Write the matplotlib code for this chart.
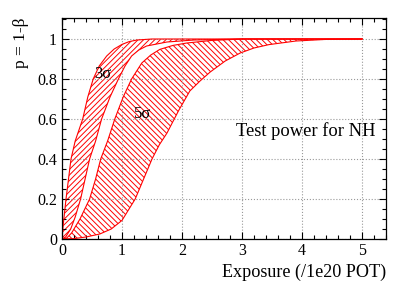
import numpy as np
import matplotlib
matplotlib.use("Agg")
import matplotlib.pyplot as plt
from matplotlib.ticker import MultipleLocator, FuncFormatter

# ---- data ----
# 3 sigma band
x3_upper = [0, 0.02, 0.067, 0.15, 0.22, 0.345, 0.43, 0.52, 0.62, 0.745, 0.87, 1.0, 1.12, 1.25, 1.5, 5.0]
p3_upper = [0, 0.07, 0.2, 0.4, 0.49, 0.6, 0.71, 0.8, 0.865, 0.915, 0.95, 0.973, 0.987, 0.995, 1.0, 1.0]
x3_lower = [0, 0.06, 0.145, 0.22, 0.31, 0.46, 0.56, 0.66, 0.8, 0.94, 1.05, 1.16, 1.28, 1.41, 1.75, 2.2, 3.0, 5.0]
p3_lower = [0, 0.01, 0.05, 0.11, 0.2, 0.4, 0.49, 0.6, 0.71, 0.8, 0.865, 0.915, 0.945, 0.965, 0.985, 0.995, 1.0, 1.0]
# 5 sigma band
x5_upper = [0, 0.08, 0.16, 0.3, 0.46, 0.56, 0.645, 0.76, 0.88, 1.02, 1.16, 1.33, 1.48, 1.63, 1.85, 2.08, 2.5, 3.0, 5.0]
p5_upper = [0, 0.005, 0.03, 0.1, 0.2, 0.3, 0.4, 0.49, 0.6, 0.71, 0.8, 0.88, 0.92, 0.948, 0.968, 0.98, 0.993, 1.0, 1.0]
x5_lower = [0, 0.2, 0.4, 0.63, 0.82, 1.0, 1.22, 1.36, 1.5, 1.62, 1.75, 1.94, 2.13, 2.3, 2.47, 2.72, 2.97, 3.2, 3.45, 3.9, 4.4, 5.0]
p5_lower = [0, 0.002, 0.01, 0.025, 0.05, 0.093, 0.2, 0.3, 0.4, 0.47, 0.53, 0.64, 0.74, 0.79, 0.835, 0.89, 0.93, 0.955, 0.972, 0.99, 0.998, 1.0]

x_ticks = [0, 1, 2, 3, 4, 5]
y_ticks = [0, 0.2, 0.4, 0.6, 0.8, 1.0]

band_labels = ["3\u03c3", "5\u03c3"]

plt.rcParams['font.family'] = ['Liberation Serif', 'DejaVu Serif']
plt.rcParams['hatch.linewidth'] = 0.7
plt.rcParams['hatch.color'] = '#ff2020'

fig = plt.figure(figsize=(4.15, 2.81), dpi=100)
ax = fig.add_axes([62/415, 1-239/281, (386-62)/415, (239-18)/281])

red = '#ff0000'
for xu, pu, xl, pl, h in [(x3_upper, p3_upper, x3_lower, p3_lower, '//////'),
                          (x5_upper, p5_upper, x5_lower, p5_lower, '\\\\\\\\\\\\')]:
    xs = np.concatenate([xu, xl[::-1]])
    ys = np.concatenate([pu, pl[::-1]])
    ax.fill(xs, ys, facecolor='none', edgecolor=red, hatch=h, linewidth=0)
    ax.plot(xu, pu, color=red, lw=0.8)
    ax.plot(xl, pl, color=red, lw=0.8)

ax.text(0.675, 0.825, band_labels[0], fontsize=12, ha='center', va='center')
ax.text(1.35, 0.625, band_labels[1], fontsize=12, ha='center', va='center')
ax.text(5.22, 0.54, "Test power for NH", fontsize=13.3, ha='right', va='center')

ax.set_xlim(0, 5.4)
ax.set_ylim(0, 1.105)
ax.set_xticks(x_ticks)
ax.set_yticks(y_ticks)
ax.xaxis.set_minor_locator(MultipleLocator(0.2))
ax.yaxis.set_minor_locator(MultipleLocator(0.05))
ax.yaxis.set_major_formatter(FuncFormatter(lambda v, p: "%g" % v))
ax.tick_params(which='both', direction='in', top=True, right=True, labelsize=11.5, width=0.8)
ax.tick_params(which='major', length=5)
ax.tick_params(which='minor', length=2.8)
ax.tick_params(axis='x', pad=3)
ax.grid(True, which='major', linestyle=':', color='#999999', linewidth=0.8)
for s in ax.spines.values():
    s.set_linewidth(0.9)

ax.set_xlabel("Exposure (/1e20 POT)", fontsize=13.1, loc='right', labelpad=3)
ax.set_ylabel("p = 1-\u03b2", fontsize=12.5, loc='top', labelpad=6)

fig.savefig("out.png", dpi=100)
